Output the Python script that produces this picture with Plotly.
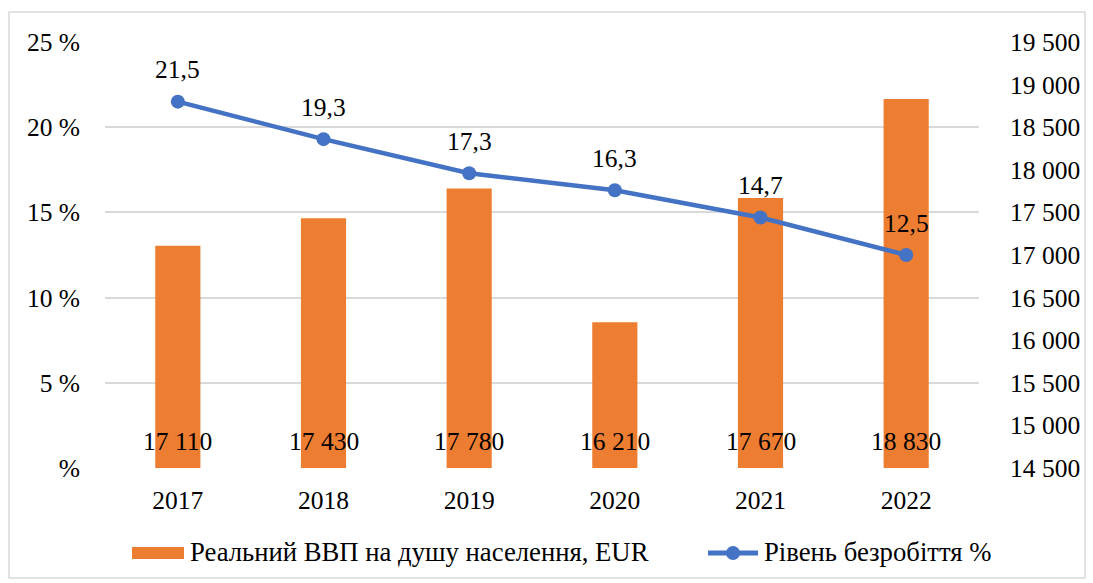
import plotly.graph_objects as go

years = [2017, 2018, 2019, 2020, 2021, 2022]
gdp = [17110, 17430, 17780, 16210, 17670, 18830]
unemp = [21.5, 19.3, 17.3, 16.3, 14.7, 12.5]

left_tickvals = [0, 5, 10, 15, 20, 25]
left_ticktext = ["%", "5 %", "10 %", "15 %", "20 %", "25 %"]

bar_name = "Реальний ВВП на душу населення, EUR"
line_name = "Рівень безробіття %"

BAR_COLOR = "#ED7D31"
LINE_COLOR = "#4472C4"
FONT = "'Liberation Serif', 'Times New Roman', serif"
FS = 25.5
LFS = 26.7

# plot area in pixels: x 105..979, y 42..468
PX0, PX1, PY0, PY1 = 105, 979, 42, 468
def xp(px):
    return (px - PX0) / (PX1 - PX0)
def yp(py):
    return (PY1 - py) / (PY1 - PY0)

fig = go.Figure()
fig.add_trace(go.Bar(
    x=years, y=gdp, name=bar_name, yaxis="y",
    marker=dict(color=BAR_COLOR, line=dict(width=0)),
    width=0.31, hoverinfo="skip", showlegend=False,
))
fig.add_trace(go.Scatter(
    x=years, y=unemp, name=line_name, yaxis="y2",
    mode="lines+markers",
    line=dict(color=LINE_COLOR, width=4.5),
    marker=dict(color=LINE_COLOR, size=14),
    showlegend=False,
))

annotations = []
for yr, v in zip(years, gdp):
    annotations.append(dict(
        x=yr, y=14500, xref="x", yref="y", yanchor="middle", yshift=27,
        text=f"{v:,}".replace(",", " "), showarrow=False,
        font=dict(family=FONT, size=FS, color="black"),
    ))
for yr, v in zip(years, unemp):
    annotations.append(dict(
        x=yr, y=v, xref="x", yref="y2", yanchor="middle", yshift=32,
        text=f"{v:.1f}".replace(".", ","), showarrow=False,
        font=dict(family=FONT, size=FS, color="black"),
    ))

# custom legend
annotations.append(dict(x=xp(188), y=yp(552), xref="paper", yref="paper",
                        xanchor="left", yanchor="middle", showarrow=False,
                        text=bar_name, font=dict(family=FONT, size=LFS, color="black")))
annotations.append(dict(x=xp(762), y=yp(552), xref="paper", yref="paper",
                        xanchor="left", yanchor="middle", showarrow=False,
                        text=line_name, font=dict(family=FONT, size=LFS, color="black")))

shapes = [
    dict(type="rect", xref="paper", yref="paper",
         x0=xp(9), x1=xp(1085), y0=yp(578), y1=yp(12),
         line=dict(color="#d9d9d9", width=1.5), layer="below"),
    dict(type="rect", xref="paper", yref="paper",
         x0=xp(132), x1=xp(184), y0=yp(559), y1=yp(547),
         fillcolor=BAR_COLOR, line=dict(width=0)),
    dict(type="line", xref="paper", yref="paper",
         x0=xp(708), x1=xp(758), y0=yp(553), y1=yp(553),
         line=dict(color=LINE_COLOR, width=5)),
    dict(type="circle", xref="paper", yref="paper",
         x0=xp(726), x1=xp(740), y0=yp(560), y1=yp(546),
         fillcolor=LINE_COLOR, line=dict(width=0)),
]

fig.update_layout(
    width=1093, height=583,
    margin=dict(l=PX0, r=1093 - PX1, t=PY0, b=583 - PY1, autoexpand=False),
    paper_bgcolor="white", plot_bgcolor="white",
    font=dict(family=FONT, size=FS, color="black"),
    separators=", ",
    showlegend=False,
    xaxis=dict(type="linear", range=[2016.5, 2022.5], tickvals=years,
               ticktext=[str(y) for y in years],
               showgrid=False, showline=False, zeroline=False,
               ticks="", ticklabelstandoff=14, automargin=False),
    yaxis=dict(range=[14500, 19500], dtick=500, tick0=14500, tickformat=",d",
               side="right", showgrid=False, zeroline=False,
               showline=False, ticks="", ticklabelstandoff=30, automargin=False),
    yaxis2=dict(range=[0, 25], tickvals=left_tickvals, ticktext=left_ticktext,
                overlaying="y", side="left",
                showgrid=True, gridcolor="#d9d9d9", gridwidth=1.5, zeroline=False,
                showline=False, ticks="", ticklabelstandoff=24, automargin=False),
    annotations=annotations,
    shapes=shapes,
)

fig.write_html("out.html",
               config={"displayModeBar": False},
               post_script="document.body.style.margin='0';document.body.style.padding='0';")
